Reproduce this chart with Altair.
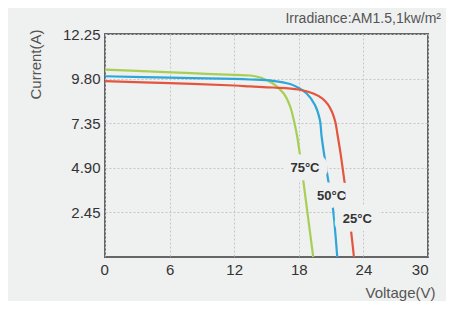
import altair as alt
import pandas as pd

# Green: 75°C
v75 = [0, 4, 8, 12, 13.5, 14.5, 15.6, 16.6, 17.2, 17.6, 17.85, 18.1, 18.42, 18.68, 19.34]
i75 = [10.29, 10.2, 10.1, 10.0, 9.97, 9.85, 9.53, 8.98, 8.26, 7.35, 6.62, 5.63, 4.18, 3.0, 0]
# Blue: 50°C
v50 = [0, 6, 12, 13.5, 15.6, 17.2, 18.0, 18.73, 19.5, 19.96, 20.12, 20.74, 21.14, 21.57]
i50 = [9.93, 9.85, 9.78, 9.75, 9.68, 9.50, 9.28, 8.98, 8.35, 7.53, 6.62, 4.18, 2.81, 0]
# Red: 25°C
v25 = [0, 6, 12, 13.5, 15.6, 17.96, 19.35, 20.2, 20.7, 21.1, 21.4, 21.6, 21.85, 22.44, 22.85, 23.12]
i25 = [9.66, 9.55, 9.42, 9.37, 9.31, 9.20, 8.98, 8.7, 8.38, 7.95, 7.4, 6.7, 5.8, 3.27, 1.45, 0]

series = ["75°C", "50°C", "25°C"]
colors = ["#a8cf55", "#2ea6d8", "#e4553f"]

label_text = ["75°C", "50°C", "25°C"]
label_v = [18.57, 21.05, 23.43]
label_i = [4.9, 3.36, 2.09]

x_ticks = [0, 6, 12, 18, 24, 30]
y_ticks = [2.45, 4.90, 7.35, 9.80, 12.25]

bg = "#eff0f0"

rows = []
for name, vs, cs in [("75°C", v75, i75), ("50°C", v50, i50), ("25°C", v25, i25)]:
    for k, (v, c) in enumerate(zip(vs, cs)):
        rows.append({"series": name, "V": v, "I": c, "order": k})
df = pd.DataFrame(rows)
labels = pd.DataFrame({"text": label_text, "V": label_v, "I": label_i})

xscale = alt.Scale(domain=[0, 30], nice=False)
yscale = alt.Scale(domain=[0, 12.25], nice=False)

xaxis = alt.Axis(values=x_ticks, title="Voltage(V)", grid=True, gridDash=[2, 2],
                 gridColor="#c4c6c6", ticks=False, domain=False, labelFontSize=15,
                 labelColor="#333", labelPadding=5, labelFont="Liberation Sans",
                 labelOffset={"condition": {"test": "datum.value == 0", "value": -5}, "value": 0},
                 titleFont="Liberation Sans", titleFontSize=15, titleFontWeight="normal",
                 titleColor="#555", titleAnchor="end", titleAlign="right",
                 titleBaseline="middle", titleX=330, titleY=35)
yaxis = alt.Axis(values=y_ticks, format=".2f", title="Current(A)", grid=True,
                 gridDash=[2, 2], gridColor="#c4c6c6", ticks=False, domain=False,
                 labelFontSize=15, labelColor="#333", labelPadding=5,
                 labelFont="Liberation Sans", titleFont="Liberation Sans",
                 titleFontSize=15, titleFontWeight="normal", titleColor="#555",
                 titleAlign="center", titleBaseline="middle", titleAngle=-90,
                 titleX=-70, titleY=30)

lines = alt.Chart(df).mark_line(strokeWidth=2.2, interpolate="catmull-rom").encode(
    x=alt.X("V:Q", scale=xscale, axis=xaxis),
    y=alt.Y("I:Q", scale=yscale, axis=yaxis),
    color=alt.Color("series:N", scale=alt.Scale(domain=series, range=colors), legend=None),
    order="order:Q",
)

halo = alt.Chart(labels).mark_text(fontSize=13, fontWeight="bold", font="Liberation Sans",
                                   fill=bg, stroke=bg, strokeWidth=17, strokeJoin="round",
                                   baseline="middle").encode(
    x=alt.X("V:Q", scale=xscale), y=alt.Y("I:Q", scale=yscale), text="text:N")

txt = alt.Chart(labels).mark_text(fontSize=13, fontWeight="bold", font="Liberation Sans",
                                  color="#333", baseline="middle").encode(
    x=alt.X("V:Q", scale=xscale), y=alt.Y("I:Q", scale=yscale), text="text:N")

chart = alt.layer(lines, halo, txt).properties(
    width=323, height=223,
    title=alt.TitleParams("Irradiance:AM1.5,1kw/m²", anchor="end", fontSize=14,
                          fontWeight="normal", font="Liberation Sans", color="#555",
                          dx=6, offset=1),
    autosize=alt.AutoSizeParams(type="none"),
    padding={"left": 97, "top": 26, "right": 18, "bottom": 44},
    background=bg,
).configure_view(stroke="#666", strokeWidth=2, fill=bg)

chart.save("out.html", embed_options={"renderer": "svg", "actions": False})
